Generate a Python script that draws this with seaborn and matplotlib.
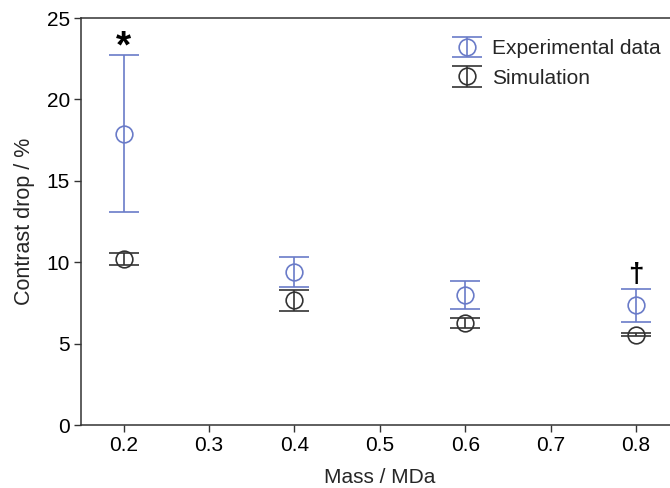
import matplotlib
matplotlib.use("Agg")
import matplotlib.pyplot as plt
import seaborn as sns
import pandas as pd

mass = [0.2, 0.4, 0.6, 0.8]
exp_mean = [17.9, 9.4, 7.98, 7.36]
exp_err = [4.8, 0.9, 0.85, 1.0]
sim_mean = [10.2, 7.67, 6.26, 5.56]
sim_err = [0.37, 0.65, 0.3, 0.1]
x_ticks = [0.2, 0.3, 0.4, 0.5, 0.6, 0.7, 0.8]
y_ticks = [0, 5, 10, 15, 20, 25]

sns.set_style("ticks")
plt.rcParams['font.family'] = ['Liberation Sans', 'DejaVu Sans']

df = pd.DataFrame({"mass": mass * 2,
                   "val": exp_mean + sim_mean,
                   "err": exp_err + sim_err,
                   "series": ["Experimental data"] * 4 + ["Simulation"] * 4})

blue = "#6a7bc8"
dark = "#333333"
colors = {"Experimental data": blue, "Simulation": dark}

fig = plt.figure(figsize=(6.7, 4.88), dpi=100)
ax = fig.add_axes([0.1209, 0.129, 0.892, 0.834])

for name, sub in df.groupby("series", sort=False):
    c = colors[name]
    ax.errorbar(sub["mass"], sub["val"], yerr=sub["err"], fmt="o", mfc="none",
                mec=c, color=c, ms=12, mew=1.2, elinewidth=1.2, capsize=11,
                capthick=1.2, label=name)

ax.text(0.2, 22.6, "*", ha="center", va="baseline", fontsize=28, fontweight="bold", color="black")
ax.text(0.8, 8.41, "†", ha="center", va="bottom", fontsize=20, fontweight="bold", color="black")

ax.set_xlim(0.15, 0.85)
ax.set_ylim(0, 25)
ax.set_xticks(x_ticks)
ax.set_xticklabels([f"{v:.1f}" for v in x_ticks])
ax.set_yticks(y_ticks)
ax.tick_params(direction="out", length=5, width=1, pad=3, labelsize=15, colors="#333333", labelcolor="black")
for s in ax.spines.values():
    s.set_color("#333333")
    s.set_linewidth(1.1)
ax.set_xlabel("Mass / MDa", fontsize=15, labelpad=9)
ax.set_ylabel("Contrast drop / %", fontsize=15.5, labelpad=8)

ax.legend(loc="upper left", bbox_to_anchor=(0.621, 0.948), frameon=False,
          fontsize=15, handlelength=1.45, handletextpad=0.45, labelspacing=0.5,
          borderpad=0, borderaxespad=0)

fig.savefig("out.png", dpi=100)
